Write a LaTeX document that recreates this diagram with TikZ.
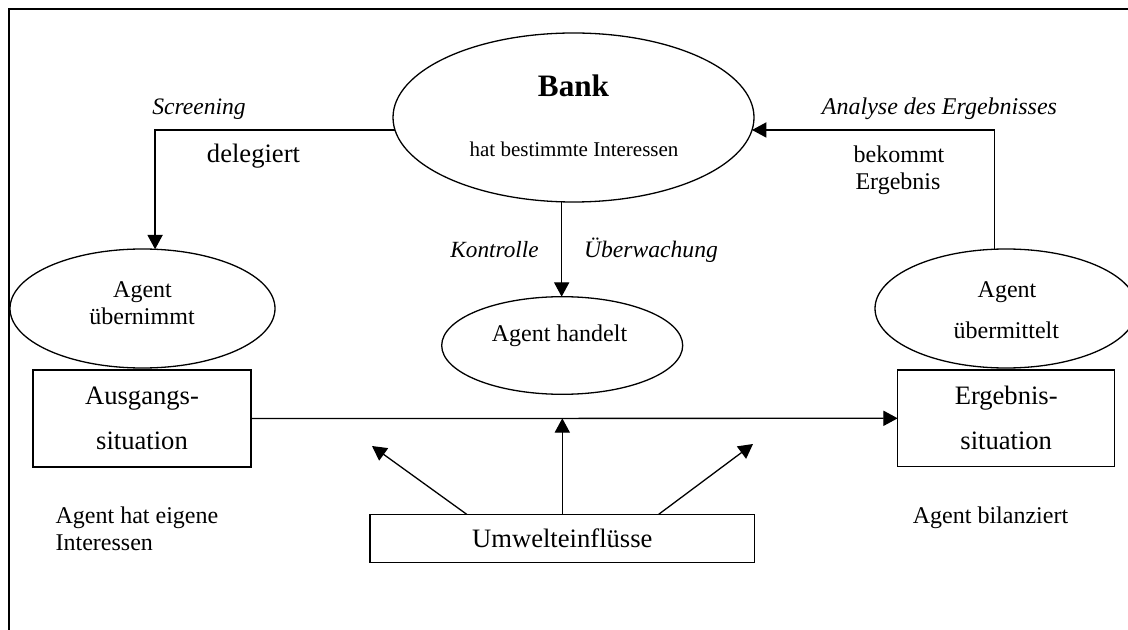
\documentclass[tikz,border=0pt]{standalone}
\usepackage{fontspec}
\setmainfont{Liberation Serif}
\usetikzlibrary{shapes.geometric,arrows.meta,calc}
\newcommand{\fN}{\fontsize{12}{13.5}\selectfont}
\newcommand{\fB}{\fontsize{13.3}{22.5}\selectfont}
\newcommand{\fS}{\fontsize{10.5}{12}\selectfont}
\newcommand{\fBank}{\fontsize{15.6}{18}\selectfont\bfseries}
\begin{document}
\begin{tikzpicture}[x=0.5pt,y=-0.5pt,
  line width=0.65pt,
  ell/.style={draw, ellipse, inner sep=0pt, outer sep=0pt},
  box/.style={draw, rectangle, inner sep=0pt, outer sep=0pt, align=center, font=\fB},
  arr/.style={-{Triangle[length=7.2pt,width=7.6pt]}},
  txt/.style={inner sep=0pt, anchor=base, font=\fN},
  itxt/.style={txt, font=\fN\itshape},
  frameline/.style={line width=1pt}]
\useasboundingbox (0,0) rectangle (1128,630);
% frame (only top and left edges visible)
\coordinate (frTR) at (1130,9.3);
\coordinate (frTL) at (8.5,9.3);
\coordinate (frBL) at (8.5,632);
\draw[frameline] (frTR) -- (frTL) -- (frBL);

% ellipses
\node[ell, minimum width=180.5pt, minimum height=84.5pt] (bank) at (573.5,117.5) {};
\node[ell, minimum width=132.5pt, minimum height=59.5pt] (agL) at (142.5,308.5) {};
\node[ell, minimum width=120.5pt, minimum height=48.8pt] (agM) at (562.2,345.5) {};
\node[ell, minimum width=131pt, minimum height=59.5pt] (agR) at (1006,308.5) {};

% boxes
\node[box, minimum width=109pt, minimum height=48.5pt] (ausg) at (142,418.5) {Ausgangs-\\situation};
\node[box, minimum width=108.5pt, minimum height=48.35pt] (erg) at (1006.2,418.3) {Ergebnis-\\situation};
\node[box, minimum width=192.35pt, minimum height=24pt] (umw) at (562.3,538.3) {Umwelteinflüsse};

% texts in ellipses
\node[txt, font=\fBank] (tBank) at (573.5,97) {Bank};
\node[txt, font=\fS] (tBank2) at (574,157) {hat bestimmte Interessen};
\node[txt] (tAgL1) at (142.5,297.3) {Agent};
\node[txt] (tAgL2) at (142,325) {übernimmt};
\node[txt] (tAgM) at (559.5,341.7) {Agent handelt};
\node[txt] (tAgR1) at (1007,297.3) {Agent};
\node[txt] (tAgR2) at (1006.3,338.3) {übermittelt};

% connector labels
\node[itxt, font=\fontsize{11.8}{13.5}\selectfont\itshape] (tScr) at (199,115) {Screening};
\node[txt, font=\fontsize{13.3}{15}\selectfont] (tDel) at (253.5,163) {delegiert};
\node[itxt] (tAna) at (939.5,115) {Analyse des Ergebnisses};
\node[txt] (tBek1) at (899,163) {bekommt};
\node[txt] (tBek2) at (898,190) {Ergebnis};
\node[itxt, font=\fontsize{11.6}{13.5}\selectfont\itshape] (tKon) at (494.5,258) {Kontrolle};
\node[itxt, font=\fontsize{11.8}{13.5}\selectfont\itshape] (tUeb) at (651,258) {Überwachung};

% free texts
\node[txt, anchor=base west] (tEig1) at (55,523.3) {Agent hat eigene};
\node[txt, anchor=base west] (tEig2) at (55,550) {Interessen};
\node[txt] (tBil) at (990.5,523.3) {Agent bilanziert};

% connectors
\draw[arr] (bank.184) -| (agL.78.7);
\draw[arr] (agR.101.2) |- (bank.356);
\draw[arr] (bank.262.2) -- (bank.262.2 |- agM.north);
\draw[arr] (ausg.east) -- (erg.west);

\coordinate (tipC) at (562.3,418.3);
\coordinate (tipL) at (372,446);
\coordinate (tipR) at (753,444);
\draw[arr] (umw.north) -- (tipC);
\draw[arr] ($(umw.north)+(-95.6,0)$) -- (tipL);
\draw[arr] ($(umw.north)+(96.4,0)$) -- (tipR);
\end{tikzpicture}
\end{document}
